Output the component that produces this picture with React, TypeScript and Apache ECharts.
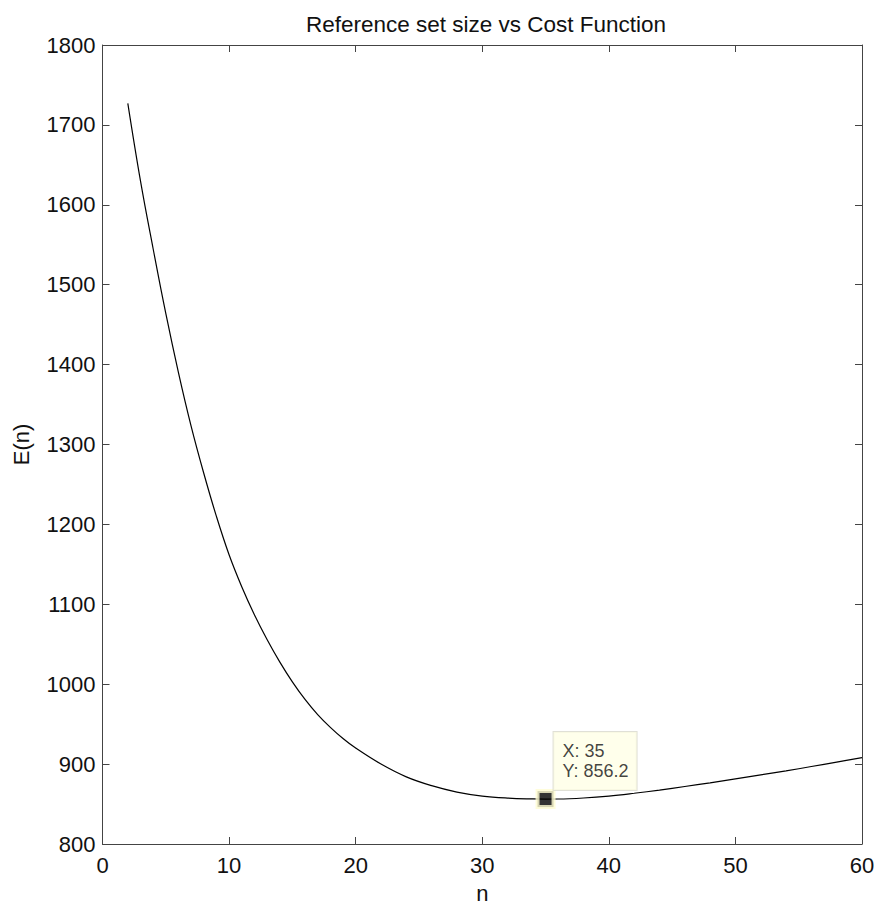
import React, { useEffect, useRef } from "react";
import * as echarts from "echarts";

const titleText = "Reference set size vs Cost Function";
const xName = "n";
const yName = "E(n)";

const nValues = [2, 3, 4, 5, 6, 7, 8, 9, 10, 11, 12, 13, 14, 15, 16, 17, 18, 19, 20, 22, 24, 26, 28, 30, 32, 34, 35, 36, 38, 40, 42, 44, 46, 48, 50, 52, 54, 56, 58, 60];
const eValues = [1727, 1630, 1545, 1464, 1390, 1323, 1264, 1210, 1162, 1122, 1087, 1056, 1028, 1003, 981, 962, 946, 932, 920, 900, 884, 873, 865, 860, 857.5, 856.4, 856.2, 856.3, 857.6, 860, 863.5, 867.5, 872, 876.5, 881.5, 886.5, 891.5, 897, 902.5, 908];

const tipPoint = [35, 856.2];
const tipLines = ["X: 35", "Y: 856.2"];

const FONT = "'Liberation Sans', Arial, Helvetica, sans-serif";

export default function App() {
  const ref = useRef<HTMLDivElement>(null);
  useEffect(() => {
    document.body.style.margin = "0";
    if (!ref.current) return;
    const chart = echarts.init(ref.current, undefined, { renderer: "svg" });
    const axisLine = { show: true, onZero: false, lineStyle: { color: "#444", width: 1 } };
    const tickStyle = { show: true, inside: true, length: 7, lineStyle: { color: "#444", width: 1 } };
    chart.setOption({
      animation: false,
      backgroundColor: "#fff",
      title: {
        text: titleText,
        left: 481,
        textAlign: "center",
        top: 8,
        textStyle: { fontFamily: FONT, fontSize: 22.5, fontWeight: "normal", color: "#111" },
      },
      grid: { left: 102.5, right: 15, top: 45, bottom: 60, containLabel: false, outerBoundsMode: "none" },
      xAxis: [
        {
          type: "value",
          min: 0,
          max: 60,
          interval: 10,
          position: "bottom",
          name: xName,
          nameLocation: "middle",
          nameGap: 38,
          nameTextStyle: { fontFamily: FONT, fontSize: 22, color: "#111" },
          axisLine,
          axisTick: tickStyle,
          axisLabel: { fontFamily: FONT, fontSize: 22, color: "#111", margin: 10 },
          splitLine: { show: false },
        },
        {
          type: "value",
          min: 0,
          max: 60,
          interval: 10,
          position: "top",
          show: true,
          axisLine,
          axisTick: tickStyle,
          axisLabel: { show: false },
          splitLine: { show: false },
        },
      ],
      yAxis: [
        {
          type: "value",
          min: 800,
          max: 1800,
          interval: 100,
          position: "left",
          name: yName,
          nameLocation: "middle",
          nameGap: 70,
          nameTextStyle: { fontFamily: FONT, fontSize: 22, color: "#111" },
          axisLine,
          axisTick: tickStyle,
          axisLabel: { fontFamily: FONT, fontSize: 22, color: "#111", margin: 7, formatter: (v: number) => String(v) },
          splitLine: { show: false },
        },
        {
          type: "value",
          min: 800,
          max: 1800,
          interval: 100,
          position: "right",
          show: true,
          axisLine,
          axisTick: tickStyle,
          axisLabel: { show: false },
          splitLine: { show: false },
        },
      ],
      series: [
        {
          type: "line",
          data: nValues.map((n, i) => [n, eValues[i]]),
          showSymbol: false,
          symbol: "none",
          smooth: 0.4,
          lineStyle: { color: "#000", width: 1.2 },
          silent: true,
        },
        {
          type: "line",
          xAxisIndex: 1,
          yAxisIndex: 1,
          data: [],
          silent: true,
        },
        {
          type: "scatter",
          data: [tipPoint],
          symbol: "rect",
          symbolSize: 16,
          itemStyle: { color: "#000", borderColor: "#fffcd2", borderWidth: 4 },
          label: {
            show: true,
            formatter: tipLines.join("\n"),
            position: [18, -57],
            align: "left",
            verticalAlign: "top",
            fontFamily: FONT,
            fontSize: 18,
            lineHeight: 20,
            color: "#111",
            backgroundColor: "#ffffe6",
            borderColor: "#d8d8cc",
            borderWidth: 1,
            padding: [9, 8, 9, 9],
          },
          silent: true,
          z: 5,
        },
      ],
    });
    return () => chart.dispose();
  }, []);
  return <div ref={ref} style={{ width: 877, height: 904 }} />;
}
